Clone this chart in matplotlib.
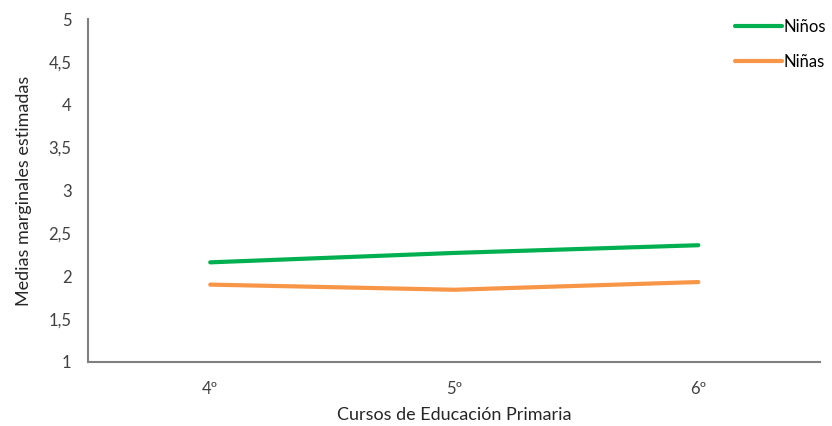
import matplotlib.pyplot as plt
from matplotlib.ticker import FuncFormatter

plt.rcParams['font.family'] = ['Lato', 'DejaVu Sans']

cursos = ['4º', '5º', '6º']
ninos = [2.16, 2.27, 2.36]
ninas = [1.90, 1.84, 1.93]
yticks = [1, 1.5, 2, 2.5, 3, 3.5, 4, 4.5, 5]

fig = plt.figure(figsize=(8.32, 4.26), dpi=100)
ax = fig.add_axes([0.106, 0.151, 0.880, 0.804])

x = range(len(cursos))
ax.plot(x, ninos, color='#00B050', lw=3, solid_capstyle='round', label='Niños')
ax.plot(x, ninas, color='#F79646', lw=3, solid_capstyle='round', label='Niñas')

ax.set_xlim(-0.5, 2.5)
ax.set_ylim(1, 5)
ax.set_xticks(list(x))
ax.set_xticklabels(cursos)
ax.set_yticks(yticks)
ax.yaxis.set_major_formatter(FuncFormatter(lambda v, p: ('%g' % v).replace('.', ',')))
ax.tick_params(length=0, labelsize=12, colors='#404040', pad=12)
ax.tick_params(axis='x', pad=14)

for s in ['top', 'right']:
    ax.spines[s].set_visible(False)
for s in ['left', 'bottom']:
    ax.spines[s].set_color('#808080')
    ax.spines[s].set_linewidth(1.5)

ax.set_xlabel('Cursos de Educación Primaria', fontsize=13, color='#262626', labelpad=7)
ax.set_ylabel('Medias marginales estimadas', fontsize=13, color='#262626', labelpad=12)

ax.legend(loc='upper left', bbox_to_anchor=(0.863, 1.045), frameon=False,
          fontsize=12, handlelength=2.8, handletextpad=0.1, labelspacing=1.15)

fig.savefig('out.png', dpi=100)
